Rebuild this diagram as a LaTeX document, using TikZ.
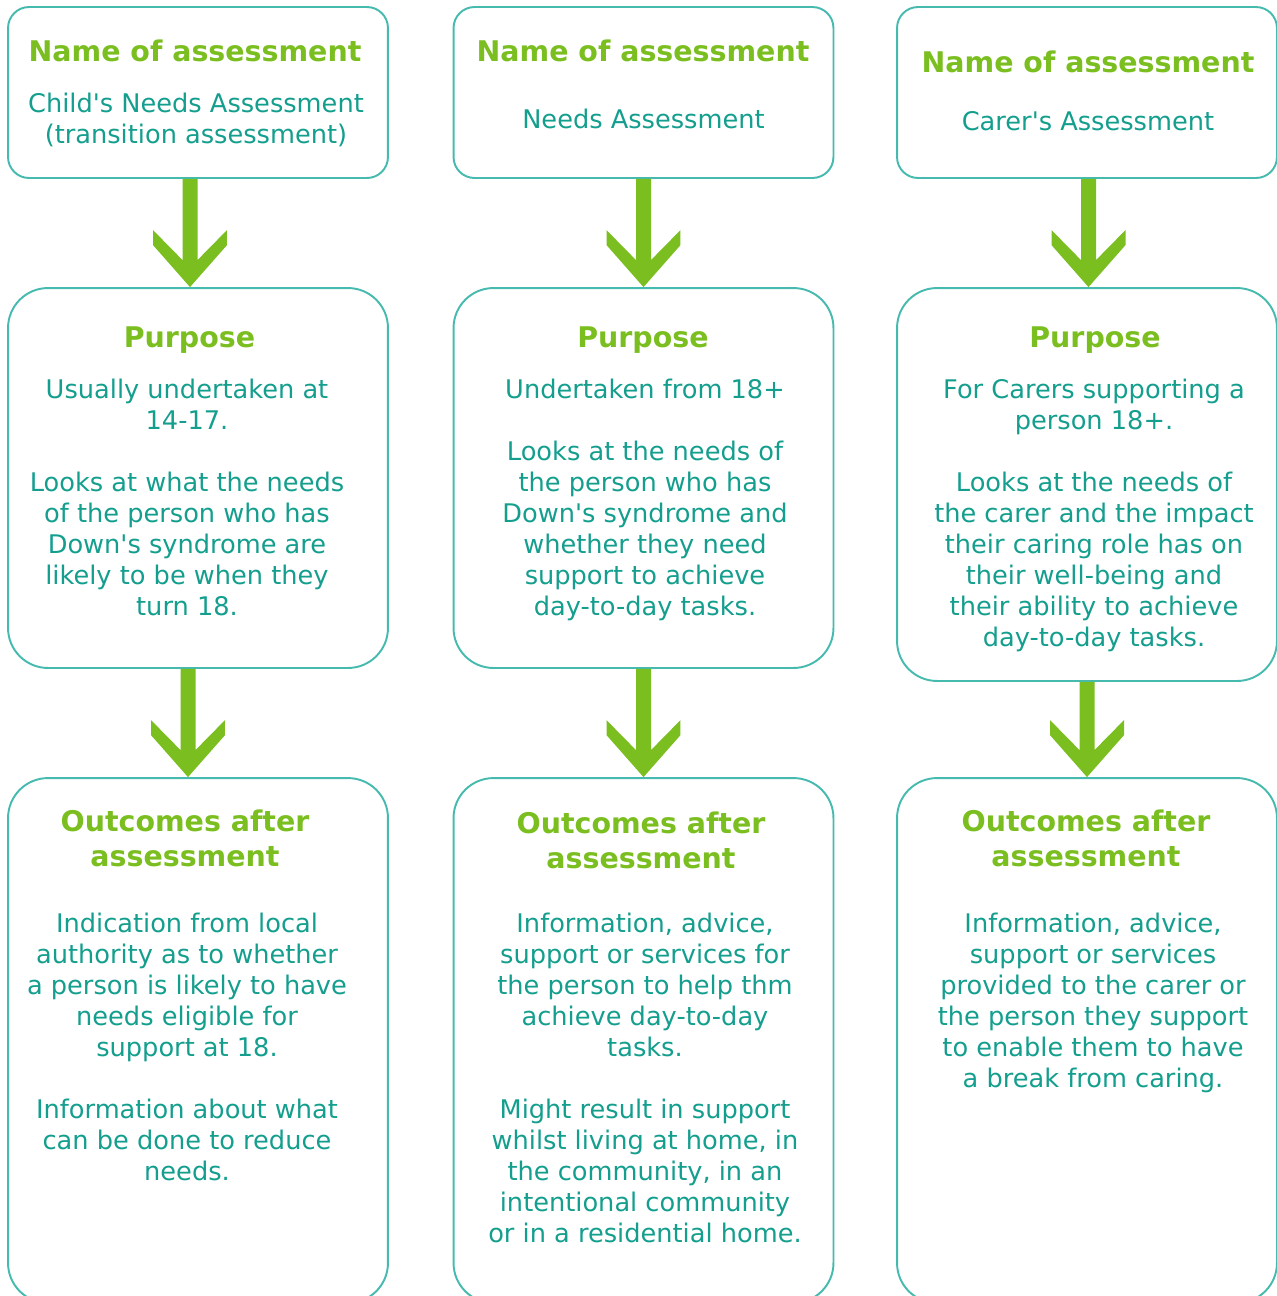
\documentclass[tikz,border=0pt]{standalone}
\usepackage{fontspec}
\setmainfont{DejaVu Sans}
\usetikzlibrary{calc}

\definecolor{leafgreen}{RGB}{122,190,32}
\definecolor{tealtext}{RGB}{20,158,142}
\definecolor{tealline}{RGB}{70,186,174}

\tikzset{
  stage/.style={draw=tealline, line width=1.1pt, rounded corners=0.8cm,
    minimum width=7.6cm, inner sep=0pt},
  namebox/.style={stage, rounded corners=0.42cm},
  heading/.style={text=leafgreen, anchor=north, inner sep=0pt, align=center,
    font=\bfseries\fontsize{16.2}{19.9}\selectfont},
  body/.style={text=tealtext, anchor=north, inner sep=0pt, align=center,
    font=\fontsize{14.6}{17.6}\selectfont},
}

% fat green arrow from one box down to the next
\newcommand{\stagearrow}[3][0cm]{%
  \fill[leafgreen] let \p1=($(#2.south)+(#1,0)$), \p2=(#3.north) in
    (\x1-0.15cm,\y1) -- (\x1-0.15cm,\y2+0.54cm) -- (\x1-0.74cm,\y2+1.14cm)
    -- (\x1-0.74cm,\y2+0.84cm) -- (\x1,\y2) -- (\x1+0.74cm,\y2+0.84cm)
    -- (\x1+0.74cm,\y2+1.14cm) -- (\x1+0.15cm,\y2+0.54cm)
    -- (\x1+0.15cm,\y1) -- cycle;}

\newcommand{\gap}{\\[0.62cm]}
\newcommand{\apo}{\textquotesingle}

\begin{document}
\begin{tikzpicture}[x=0.02cm, y=-0.02cm]
\useasboundingbox (0,0) rectangle (1277,1296);

% boxes
\node[namebox, minimum height=3.42cm] (name1) at (198,92.5) {};
\node[namebox, minimum height=3.42cm] (name2) at (643.5,92.5) {};
\node[namebox, minimum height=3.42cm] (name3) at (1087,92.5) {};

\node[stage, minimum height=7.6cm] (purp1) at (198,478) {};
\node[stage, minimum height=7.6cm] (purp2) at (643.5,478) {};
\node[stage, minimum height=7.86cm] (purp3) at (1087,484.5) {};

\node[stage, minimum height=10.5cm] (out1) at (198,1040.5) {};
\node[stage, minimum height=10.5cm] (out2) at (643.5,1040.5) {};
\node[stage, minimum height=10.5cm] (out3) at (1087,1040.5) {};

% arrows
\stagearrow[-0.16cm]{name1}{purp1}
\stagearrow{name2}{purp2}
\stagearrow[0.03cm]{name3}{purp3}
\stagearrow[-0.2cm]{purp1}{out1}
\stagearrow{purp2}{out2}
\stagearrow{purp3}{out3}

% name of assessment
\node[heading] (nt1) at (195,40) {Name of assessment};
\node[body] (nb1) at (196,93) {Child\apo s Needs Assessment\\(transition assessment)};
\node[heading] (nt2) at (643,40) {Name of assessment};
\node[body] (nb2) at (643.5,109) {Needs Assessment};
\node[heading] (nt3) at (1088,51) {Name of assessment};
\node[body] (nb3) at (1088,111) {Carer\apo s Assessment};

% purpose
\node[heading] (pt1) at (189.5,326) {Purpose};
\node[body] (pb1) at (187,379) {Usually undertaken at\\14-17.\gap
  Looks at what the needs\\of the person who has\\Down\apo s syndrome are\\
  likely to be when they\\turn 18.};
\node[heading] (pt2) at (643,326) {Purpose};
\node[body] (pb2) at (645,379) {Undertaken from 18+\gap
  Looks at the needs of\\the person who has\\Down\apo s syndrome and\\
  whether they need\\support to achieve\\day-to-day tasks.};
\node[heading] (pt3) at (1095,326) {Purpose};
\node[body] (pb3) at (1094,379) {For Carers supporting a\\person 18+.\gap
  Looks at the needs of\\the carer and the impact\\their caring role has on\\
  their well-being and\\their ability to achieve\\day-to-day tasks.};

% outcomes
\node[heading] (ot1) at (185,810) {Outcomes after\\assessment};
\node[body] (ob1) at (187,913) {Indication from local\\authority as to whether\\
  a person is likely to have\\needs eligible for\\support at 18.\gap
  Information about what\\can be done to reduce\\needs.};
\node[heading] (ot2) at (641,812) {Outcomes after\\assessment};
\node[body] (ob2) at (645,913) {Information, advice,\\support or services for\\
  the person to help thm\\achieve day-to-day\\tasks.\gap
  Might result in support\\whilst living at home, in\\the community, in an\\
  intentional community\\or in a residential home.};
\node[heading] (ot3) at (1086,810) {Outcomes after\\assessment};
\node[body] (ob3) at (1093,913) {Information, advice,\\support or services\\
  provided to the carer or\\the person they support\\to enable them to have\\
  a break from caring.};
\end{tikzpicture}
\end{document}
